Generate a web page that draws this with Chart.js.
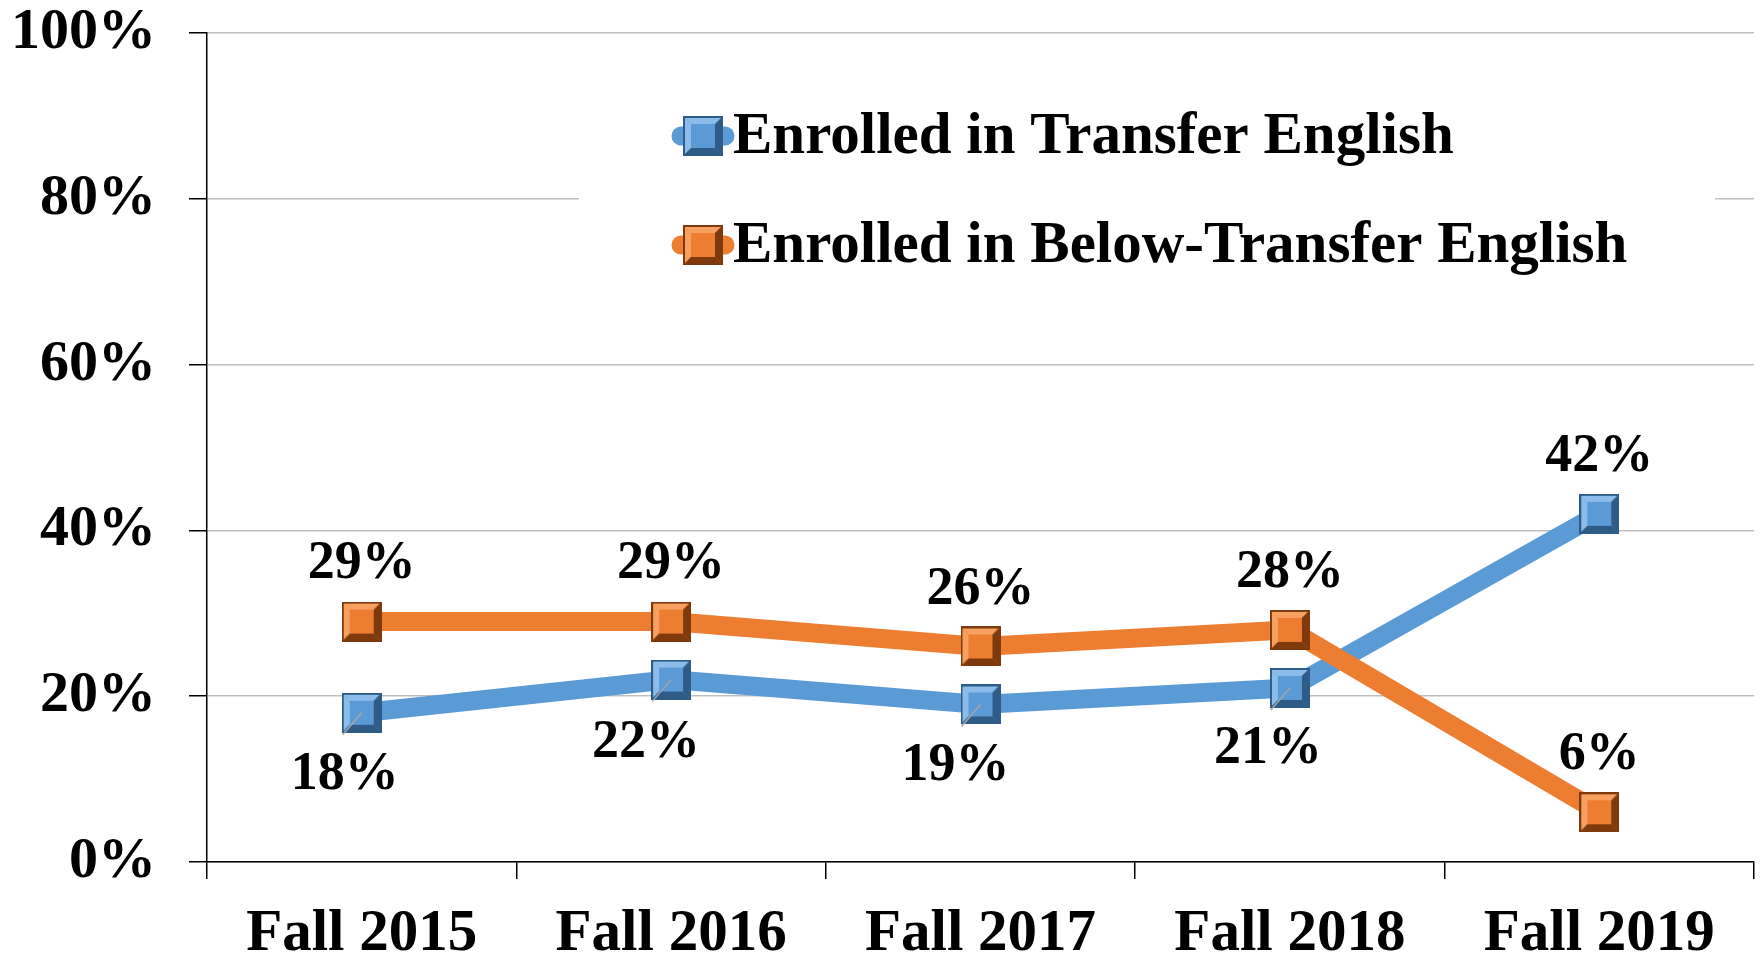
<!DOCTYPE html>
<html>
<head>
<meta charset="utf-8">
<script src="https://cdn.jsdelivr.net/npm/chart.js@4.4.0/dist/chart.umd.min.js"></script>
<style>
  html, body { margin: 0; padding: 0; background: #fff; }
  #wrap { width: 1763px; height: 953px; }
</style>
</head>
<body>
<div id="wrap"><canvas id="chart" width="1763" height="953"></canvas></div>
<script>
// Data
const terms = ['Fall 2015', 'Fall 2016', 'Fall 2017', 'Fall 2018', 'Fall 2019'];
const transferEnglish = [18, 22, 19, 21, 42];
const belowTransferEnglish = [29, 29, 26, 28, 6];
const seriesNames = ['Enrolled in Transfer English', 'Enrolled in Below-Transfer English'];
const yTicks = [0, 20, 40, 60, 80, 100];

const FONT = '"Liberation Serif", "Times New Roman", serif';

// Build a bevelled square marker like the Excel one
function makeMarker(base, light, dark, size) {
    const c = document.createElement('canvas');
    c.width = size; c.height = size;
    const g = c.getContext('2d');
    const b = Math.round(size * 0.2);
    g.fillStyle = base;
    g.fillRect(0, 0, size, size);
    // top + left light
    g.fillStyle = light;
    g.beginPath();
    g.moveTo(1, 1); g.lineTo(size - 1, 1); g.lineTo(size - b, b); g.lineTo(b, b); g.closePath(); g.fill();
    g.beginPath();
    g.moveTo(1, 1); g.lineTo(b, b); g.lineTo(b, size - b); g.lineTo(1, size - 1); g.closePath(); g.fill();
    // bottom + right dark
    g.fillStyle = dark;
    g.beginPath();
    g.moveTo(size - 1, 1); g.lineTo(size - 1, size - 1); g.lineTo(size - b, size - b); g.lineTo(size - b, b); g.closePath(); g.fill();
    g.beginPath();
    g.moveTo(1, size - 1); g.lineTo(size - 1, size - 1); g.lineTo(size - b, size - b); g.lineTo(b, size - b); g.closePath(); g.fill();
    // inner face
    g.fillStyle = base;
    g.fillRect(b, b, size - 2 * b, size - 2 * b);
    g.strokeStyle = dark;
    g.lineWidth = 2;
    g.strokeRect(1, 1, size - 2, size - 2);
    return c;
}

const blueMarker = makeMarker('#5B9BD5', '#8cbdea', '#2e5c87', 40);
const orangeMarker = makeMarker('#ED7D31', '#f8a060', '#7e3a0c', 40);

// label placement per point: [dx, dy, leader]
const labelPlacement = [
    [[-17, 62, true], [-25, 63, true], [-25, 62, true], [-22, 61, true], [0, -57, false]],
    [[0, -58, false], [0, -58, false], [0, -56, false], [0, -57, false], [0, -57, false]]
];

const dataLabels = {
    id: 'dataLabels',
    afterDatasetsDraw(chart) {
        const ctx = chart.ctx;
        ctx.save();
        chart.data.datasets.forEach((ds, i) => {
            const meta = chart.getDatasetMeta(i);
            meta.data.forEach((pt, j) => {
                const [dx, dy, leader] = labelPlacement[i][j];
                if (leader) {
                    ctx.strokeStyle = '#a6a6a6';
                    ctx.lineWidth = 1.5;
                    ctx.beginPath();
                    ctx.moveTo(pt.x, pt.y);
                    ctx.lineTo(pt.x - 19, pt.y + 22);
                    ctx.stroke();
                }
                ctx.fillStyle = '#000';
                ctx.font = 'bold 54px ' + FONT;
                ctx.textAlign = 'center';
                ctx.textBaseline = 'middle';
                ctx.fillText(ds.data[j] + '%', pt.x + dx, pt.y + dy);
            });
        });
        ctx.restore();
    }
};

const insideLegend = {
    id: 'insideLegend',
    afterDraw(chart) {
        const ctx = chart.ctx;
        ctx.save();
        ctx.fillStyle = '#fff';
        ctx.fillRect(579, 62, 1136, 232);
        const rows = [136, 245];
        const markers = [blueMarker, orangeMarker];
        chart.data.datasets.forEach((ds, i) => {
            const y = rows[i];
            ctx.strokeStyle = ds.borderColor;
            ctx.lineWidth = 19;
            ctx.lineCap = 'round';
            ctx.beginPath();
            ctx.moveTo(681, y);
            ctx.lineTo(725, y);
            ctx.stroke();
            ctx.drawImage(markers[i], 683, y - 20);
            ctx.fillStyle = '#000';
            ctx.font = 'bold 59px ' + FONT;
            ctx.textAlign = 'left';
            ctx.textBaseline = 'middle';
            ctx.fillText(ds.label, 733, y + 2);
        });
        ctx.restore();
    }
};

new Chart(document.getElementById('chart'), {
    type: 'line',
    data: {
        labels: terms,
        datasets: [{
            label: seriesNames[0],
            data: transferEnglish,
            borderColor: '#5B9BD5',
            backgroundColor: '#5B9BD5',
            borderWidth: 19,
            pointStyle: blueMarker,
            pointRadius: 20,
            tension: 0,
            order: 1
        }, {
            label: seriesNames[1],
            data: belowTransferEnglish,
            borderColor: '#ED7D31',
            backgroundColor: '#ED7D31',
            borderWidth: 19,
            pointStyle: orangeMarker,
            pointRadius: 20,
            tension: 0,
            order: 0
        }]
    },
    options: {
        responsive: false,
        animation: false,
        devicePixelRatio: 1,
        layout: { autoPadding: false, padding: { left: 11, right: 9, top: 33, bottom: 0 } },
        plugins: {
            legend: { display: false },
            tooltip: { enabled: false }
        },
        scales: {
            y: {
                min: 0,
                max: 100,
                afterBuildTicks(axis) { axis.ticks = yTicks.map(v => ({ value: v })); },
                afterFit(axis) {
                    axis.width = 196;
                    axis.paddingTop = 0;
                    axis.paddingBottom = 0;
                },
                ticks: {
                    callback: v => v + '%',
                    color: '#000',
                    font: { family: FONT, size: 58, weight: 'bold' },
                    padding: 33
                },
                grid: { color: '#bfbfbf', lineWidth: 1.5, tickColor: '#000', tickLength: 18 },
                border: { color: '#000', width: 1.5 }
            },
            x: {
                offset: true,
                afterFit(axis) {
                    axis.height = 91;
                    axis.paddingLeft = 0;
                    axis.paddingRight = 0;
                },
                grid: { offset: true, drawOnChartArea: false, tickColor: '#000', tickLength: 17, lineWidth: 1.5 },
                border: { color: '#000', width: 1.5 },
                ticks: {
                    color: '#000',
                    font: { family: FONT, size: 59, weight: 'bold' },
                    padding: 20,
                    maxRotation: 0
                }
            }
        }
    },
    plugins: [dataLabels, insideLegend]
});
</script>
</body>
</html>
